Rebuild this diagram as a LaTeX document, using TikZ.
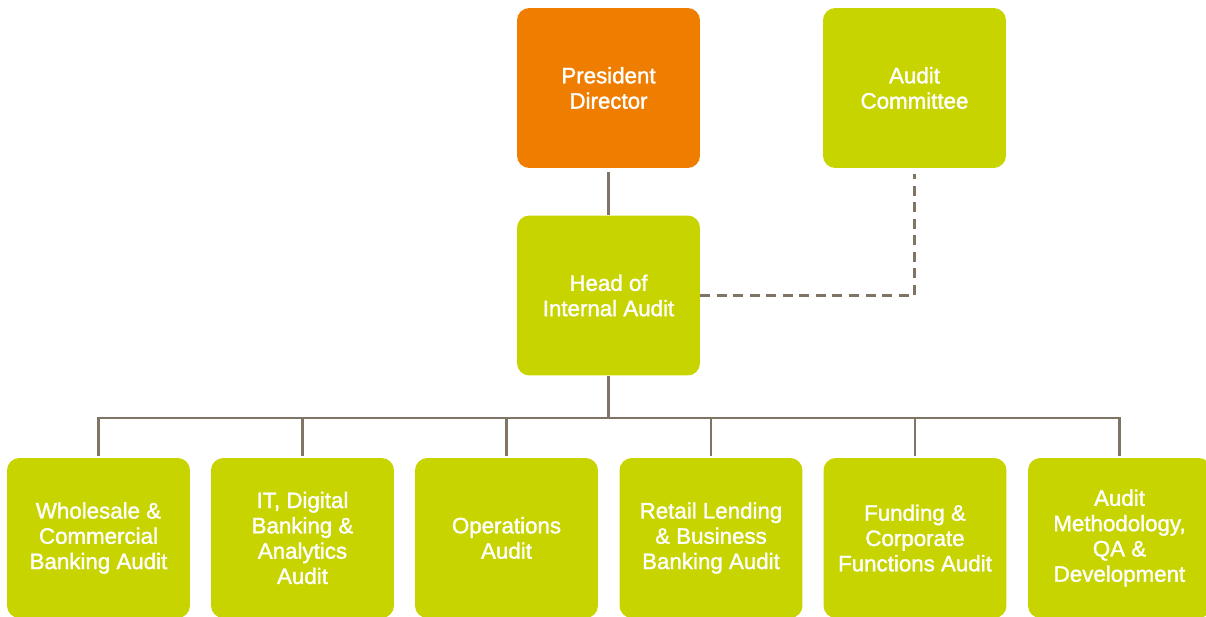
\documentclass[tikz,border=0pt]{standalone}
\usepackage{fontspec}
\setmainfont{Liberation Sans}
\newfontfamily\medio{Liberation Sans}[FakeBold=1.5]
\usepackage{xcolor}

\definecolor{naranja}{RGB}{239,125,0}
\definecolor{lima}{RGB}{200,212,0}
\definecolor{linea}{RGB}{128,116,102}

\tikzset{
  caja/.style={fill=lima, rounded corners=7pt, minimum width=3.66cm,
    minimum height=3.2cm, inner sep=0pt, text=white, align=center,
    font=\medio\fontsize{12.7}{14.4}\selectfont},
  enlace/.style={draw=linea, line width=1.6pt},
}

\begin{document}
\begin{tikzpicture}[x=0.02cm,y=-0.02cm]
        % Paso 1: Fija el marco del dibujo
        \useasboundingbox (0,0) rectangle (1206,617);

        % Paso 2: Define las cajas superiores
        \node[caja, fill=naranja] (P) at (608.5,88) {President\\Director};
        \node[caja] (C) at (914.5,88) {Audit\\Committee};

        % Paso 3: Define la caja de auditoría interna
        \node[caja] (H) at (608.5,295.5) {Head of\\Internal Audit};

        % Paso 4: Define las cajas inferiores
        \foreach \n/\x/\t in {1/98.5/{Wholesale \&\\Commercial\\Banking Audit},
                              2/302.5/{IT, Digital\\Banking \&\\Analytics\\Audit},
                              3/506.5/{Operations\\Audit},
                              4/711/{Retail Lending\\\& Business\\Banking Audit},
                              5/915/{Funding \&\\Corporate\\Functions Audit},
                              6/1119.5/{Audit\\Methodology,\\QA \&\\Development}}
          \node[caja] (B\n) at (\x,538) {\t};

        % Paso 5: Punto de reparto
        \coordinate (M) at (608.5,418);

        % Paso 6: Dibuja las líneas de mando
        \draw[enlace, shorten <=2pt] (P) -- (H);
        \draw[enlace] (H) -- (M);
        \draw[enlace, shorten <=1pt, shorten >=1pt] (B1) |- (M) -| (B6);
        \foreach \n in {2,...,5}
          \draw[enlace, shorten >=1pt] (B\n.north |- M) -- (B\n);

        % Paso 7: Dibuja la línea discontinua al comité
        \draw[enlace, dash pattern=on 5.7pt off 3.7pt, shorten >=3pt] (H.east) -| (C);
\end{tikzpicture}
\end{document}
